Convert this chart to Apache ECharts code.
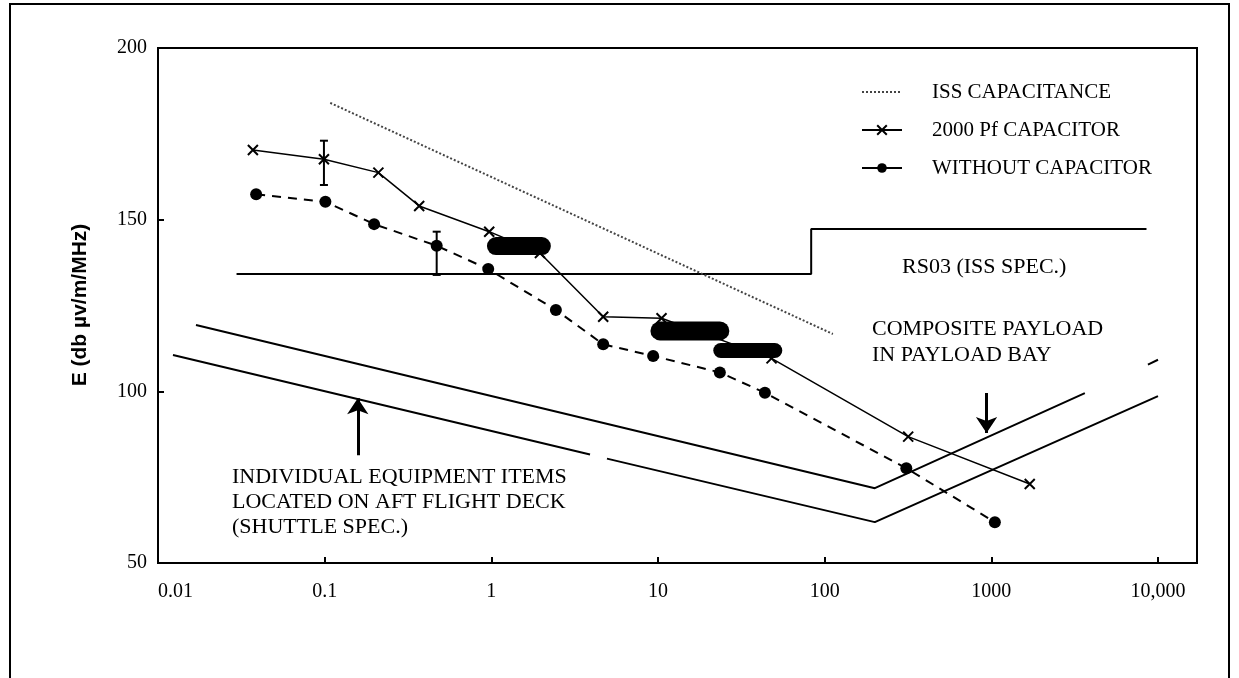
<!DOCTYPE html>
<html>
<head>
<meta charset="utf-8">
<script src="https://cdn.jsdelivr.net/npm/echarts@6/dist/echarts.min.js"></script>
<style>html,body{margin:0;padding:0;background:#fff}#c{width:1239px;height:678px}</style>
</head>
<body>
<div id="c"></div>
<script>
// ---- data (x = frequency MHz, y = E dB µV/m/MHz) ----
var xTickLabels = ['0.01', '0.1', '1', '10', '100', '1000', '10,000'];
var issCapacitance = [[0.108, 184], [112, 116.7]];
var pf2000 = [[0.0371, 170.3], [0.099, 167.6], [0.21, 163.7], [0.369, 154], [0.971, 146.5],
              [1.957, 140.3], [4.69, 121.7], [10.5, 121.3], [48, 109.6], [317, 86.8], [1700, 73]];
var withoutCap = [[0.0388, 157.4], [0.101, 155.2], [0.198, 148.7], [0.47, 142.4], [0.958, 135.6],
                  [2.44, 123.7], [4.69, 113.7], [9.35, 110.3], [23.5, 105.5], [43.8, 99.6],
                  [309, 77.6], [1050, 61.9]];
var rs03 = [[0.0296, 134.2], [83, 134.2], [83, 147.3], [8530, 147.3]];
var compositeSpec = [[0.0169, 119.3], [200, 71.8], [3640, 99.5], [6000, '-'], [8700, 107.8], [10000, 109.2]];
var shuttleSpec = [[0.0123, 110.6], [3.91, 81.6], [4.5, '-'], [4.94, 80.4], [200, 61.9], [10000, 98.6]];
var blob1 = [[1.066, 142.3], [2.01, 142.3]];
var blob2 = [[10.27, 117.6], [23.5, 117.6]];
var blob3 = [[23.8, 111.9], [50.2, 111.9]];
var errorBars = [[0.099, 160.1, 173], [0.47, 133.9, 146.5]];
var arrows = [[[0.158, 81.4], [0.158, 98]], [[936, 99.5], [936, 87.9]]];
var yAxisName = 'E (db µv/m/MHz)';

var serif = '"Liberation Serif", "Times New Roman", serif';
var chart = echarts.init(document.getElementById('c'), null, {renderer: 'canvas'});
var plain = {symbol: 'none', silent: true, z: 3};

chart.setOption({
  animation: false,
  backgroundColor: '#fff',
  grid: {left: 158, right: 81, top: 48, bottom: 115},
  legend: {
    orient: 'vertical', left: 856, top: 75,
    itemWidth: 40, itemHeight: 12, itemGap: 14,
    textStyle: {fontFamily: serif, fontSize: 21, color: '#000', lineHeight: 24, padding: [0, 0, 0, 25]},
    data: [
      {name: 'ISS CAPACITANCE', itemStyle: {opacity: 0}},
      {name: '2000 Pf CAPACITOR', lineStyle: {type: 'solid'}},
      {name: 'WITHOUT CAPACITOR', lineStyle: {type: 'solid'}}
    ]
  },
  xAxis: {
    type: 'log', logBase: 10, min: 0.01, max: 10000,
    axisLine: {lineStyle: {color: '#000', width: 2}},
    axisTick: {inside: true, length: 6, lineStyle: {color: '#000', width: 2}},
    minorTick: {show: false},
    splitLine: {show: false},
    axisLabel: {
      color: '#000', fontFamily: serif, fontSize: 20, margin: 19, alignMinLabel: 'left',
      formatter: function (v) { return xTickLabels[Math.round(Math.log10(v)) + 2]; }
    }
  },
  yAxis: {
    type: 'value', min: 50, max: 200, interval: 50,
    axisLine: {show: true, lineStyle: {color: '#000', width: 2}},
    axisTick: {inside: true, length: 6, lineStyle: {color: '#000', width: 2}},
    splitLine: {show: false},
    axisLabel: {color: '#000', fontFamily: serif, fontSize: 20, margin: 11}
  },
  series: [
    Object.assign({}, plain, {name: 'RS03', type: 'line', data: rs03, lineStyle: {color: '#000', width: 2}}),
    Object.assign({}, plain, {name: 'Composite', type: 'line', data: compositeSpec, lineStyle: {color: '#000', width: 2}}),
    Object.assign({}, plain, {name: 'Shuttle', type: 'line', data: shuttleSpec, lineStyle: {color: '#000', width: 2}}),
    {name: 'ISS CAPACITANCE', type: 'line', data: issCapacitance, symbol: 'none', z: 3,
     itemStyle: {color: '#444'},
     lineStyle: {color: '#444', width: 2, type: [2, 2]}},
    {name: '2000 Pf CAPACITOR', type: 'line', data: pf2000, z: 5,
     symbol: 'path://M0,0L10,10M10,0L0,10', symbolSize: 10, showAllSymbol: true,
     itemStyle: {color: '#000', borderColor: '#000', borderWidth: 2},
     lineStyle: {color: '#000', width: 1.5}},
    {name: 'WITHOUT CAPACITOR', type: 'line', data: withoutCap, z: 5,
     symbol: 'circle', symbolSize: 12, showAllSymbol: true,
     itemStyle: {color: '#000'},
     lineStyle: {color: '#000', width: 2, type: [9, 7]}},
    Object.assign({}, plain, {name: 'b1', type: 'line', data: blob1, z: 6, lineStyle: {color: '#000', width: 18, cap: 'round'}}),
    Object.assign({}, plain, {name: 'b2', type: 'line', data: blob2, z: 6, lineStyle: {color: '#000', width: 19, cap: 'round'}}),
    Object.assign({}, plain, {name: 'b3', type: 'line', data: blob3, z: 6, lineStyle: {color: '#000', width: 15, cap: 'round'}}),
    {name: 'err', type: 'custom', data: errorBars, z: 6, silent: true,
     encode: {x: 0, y: [1, 2]},
     renderItem: function (params, api) {
       var lo = api.coord([api.value(0), api.value(1)]);
       var hi = api.coord([api.value(0), api.value(2)]);
       var st = {stroke: '#000', lineWidth: 2};
       return {type: 'group', children: [
         {type: 'line', shape: {x1: lo[0], y1: lo[1], x2: hi[0], y2: hi[1]}, style: st},
         {type: 'line', shape: {x1: lo[0] - 4, y1: lo[1], x2: lo[0] + 4, y2: lo[1]}, style: st},
         {type: 'line', shape: {x1: hi[0] - 4, y1: hi[1], x2: hi[0] + 4, y2: hi[1]}, style: st}
       ]};
     }},
    {name: 'arrows', type: 'lines', coordinateSystem: 'cartesian2d', z: 6, silent: true,
     symbol: ['none', 'arrow'], symbolSize: [10, 16],
     lineStyle: {color: '#000', width: 3, opacity: 1},
     data: arrows.map(function (a) { return {coords: a}; })}
  ],
  graphic: [
    {type: 'rect', silent: true, z: 1, shape: {x: 158, y: 48, width: 1039, height: 515},
     style: {fill: 'none', stroke: '#000', lineWidth: 2}},
    {type: 'polyline', silent: true, shape: {points: [[10, 678], [10, 4], [1229, 4], [1229, 678]]},
     style: {fill: 'none', stroke: '#000', lineWidth: 2}},
    {type: 'text', silent: true, x: 80, y: 305, rotation: Math.PI / 2,
     style: {text: yAxisName, fontFamily: '"Liberation Sans", Arial, sans-serif', fontWeight: 'bold', fontSize: 21,
             fill: '#000', align: 'center', verticalAlign: 'middle'}},
    {type: 'text', silent: true, x: 902, y: 267,
     style: {text: 'RS03 (ISS SPEC.)', fontFamily: serif, fontSize: 22, fill: '#000', verticalAlign: 'middle'}},
    {type: 'text', silent: true, x: 872, y: 342,
     style: {text: 'COMPOSITE PAYLOAD\nIN PAYLOAD BAY', fontFamily: serif, fontSize: 22, lineHeight: 26, fill: '#000', verticalAlign: 'middle'}},
    {type: 'text', silent: true, x: 232, y: 465,
     style: {text: 'INDIVIDUAL EQUIPMENT ITEMS\nLOCATED ON AFT FLIGHT DECK\n(SHUTTLE SPEC.)', fontFamily: serif, fontSize: 22, lineHeight: 25, fill: '#000', verticalAlign: 'top'}}
  ]
});
</script>
</body>
</html>
